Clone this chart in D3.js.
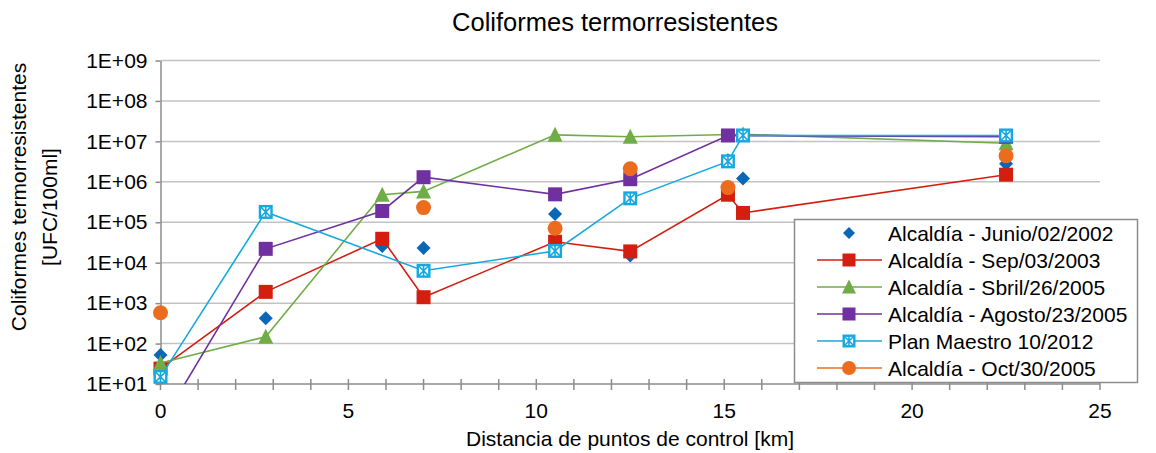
<!DOCTYPE html>
<html>
<head>
<meta charset="utf-8">
<script src="https://cdn.jsdelivr.net/npm/d3@7"></script>
<style>
  html, body { margin: 0; padding: 0; background: #fff; }
  svg { display: block; font-family: "Liberation Sans", Arial, sans-serif; }
</style>
</head>
<body>
<svg id="chart" width="1156" height="453"></svg>
<script>
// Sampling distances along the channel [km]
const distances = [0, 2.8, 5.9, 7.0, 10.5, 12.5, 15.1, 15.5, 22.5];

// Thermotolerant coliforms [UFC/100ml] per campaign (null = not sampled)
const junio2002  = [52, 420, 2.6e4, 2.3e4, 1.6e5, 1.5e4, 3.4e6, 1.2e6, 2.8e6];
const sep2003    = [24, 1.9e3, 3.9e4, 1.4e3, 3.3e4, 1.9e4, 4.8e5, 1.7e5, 1.5e6];
const sbril2005  = [33, 148, 4.8e5, 5.8e5, 1.45e7, 1.3e7, null, 1.5e7, 9e6];
const agosto2005 = [1, 2.2e4, 1.9e5, 1.3e6, 4.9e5, 1.16e6, 1.4e7, null, 1.3e7];
const plan2012   = [15, 1.8e5, null, 6.3e3, 1.95e4, 3.9e5, 3.2e6, 1.4e7, 1.4e7];
const oct2005    = [580, null, null, 2.3e5, 7.1e4, 2.1e6, 7.2e5, null, 4.4e6];

const seriesNames = [
  "Alcaldía - Junio/02/2002",
  "Alcaldía - Sep/03/2003",
  "Alcaldía - Sbril/26/2005",
  "Alcaldía - Agosto/23/2005",
  "Plan Maestro 10/2012",
  "Alcaldía - Oct/30/2005"
];
const seriesValues = [junio2002, sep2003, sbril2005, agosto2005, plan2012, oct2005];

const yTickValues = [1e1, 1e2, 1e3, 1e4, 1e5, 1e6, 1e7, 1e8, 1e9];
const xTickValues = [0, 5, 10, 15, 20, 25];

const chartTitle = "Coliformes termorresistentes";
const xTitle = "Distancia de puntos de control [km]";
const yTitleLines = ["Coliformes termorresistentes", "[UFC/100ml]"];

// Presentation of each series
const styles = [
  { color: "#0a66b7", shape: "diamond", line: false, legendLine: false },
  { color: "#d41f10", shape: "square",  line: true,  legendLine: true },
  { color: "#70ad47", shape: "triangle", line: true, legendLine: true },
  { color: "#7030a0", shape: "square",  line: true,  legendLine: true },
  { color: "#16a9e1", shape: "boxX",    line: true,  legendLine: true },
  { color: "#ec6c1f", shape: "circle",  line: false, legendLine: true }
];

const svg = d3.select("#chart");
const plotLeft = 160.5, plotRight = 1100, plotTop = 60.5, plotBottom = 384;

const x = d3.scaleLinear().domain([0, 25]).range([plotLeft, plotRight]);
const y = d3.scaleLog().domain([1e1, 1e9]).range([plotBottom, plotTop]);

// Clip regions: lines stop at the axis, markers may overhang sideways
const defs = svg.append("defs");
defs.append("clipPath").attr("id", "clipLines")
  .append("rect").attr("x", plotLeft).attr("y", 0).attr("width", plotRight - plotLeft + 20).attr("height", plotBottom);
defs.append("clipPath").attr("id", "clipMarks")
  .append("rect").attr("x", 0).attr("y", 0).attr("width", 1156).attr("height", plotBottom + 2);

// Horizontal gridlines
svg.append("g")
  .selectAll("line")
  .data(yTickValues.filter(v => v > 1e1))
  .join("line")
  .attr("x1", plotLeft).attr("x2", plotRight)
  .attr("y1", d => y(d)).attr("y2", d => y(d))
  .attr("stroke", "#c3c3c3").attr("stroke-width", 1.5);

// Y axis
const yAxis = d3.axisLeft(y)
  .tickValues(yTickValues)
  .tickFormat(d => "1E+" + String(Math.round(Math.log10(d))).padStart(2, "0"))
  .tickSizeInner(5).tickSizeOuter(0).tickPadding(8);
const gy = svg.append("g").attr("transform", `translate(${plotLeft},0)`).call(yAxis);
gy.select(".domain").attr("stroke", "#8c8c8c").attr("stroke-width", 1.5);
gy.selectAll(".tick line").attr("stroke", "#8c8c8c").attr("stroke-width", 1.5);
gy.selectAll(".tick text").attr("font-size", 21).attr("fill", "#000")
  .attr("font-family", "Liberation Sans, Arial, sans-serif");

// X axis with minor ticks every km crossing the axis line
const gx = svg.append("g").attr("transform", `translate(0,${plotBottom})`);
gx.append("line").attr("x1", plotLeft).attr("x2", plotRight).attr("y1", 0).attr("y2", 0)
  .attr("stroke", "#8c8c8c").attr("stroke-width", 1.5);
gx.selectAll("line.tk")
  .data(d3.range(0, 26))
  .join("line").attr("class", "tk")
  .attr("x1", d => x(d)).attr("x2", d => x(d))
  .attr("y1", -5).attr("y2", 6)
  .attr("stroke", "#8c8c8c").attr("stroke-width", 1.5);
gx.selectAll("text")
  .data(xTickValues)
  .join("text")
  .attr("x", d => x(d)).attr("y", 34)
  .attr("text-anchor", "middle")
  .attr("font-size", 21).attr("fill", "#000")
  .text(d => d);

// Titles
svg.append("text").attr("x", 615).attr("y", 31).attr("text-anchor", "middle")
  .attr("font-size", 25.5).attr("fill", "#000").text(chartTitle);
svg.append("text").attr("x", 630).attr("y", 446).attr("text-anchor", "middle")
  .attr("font-size", 21).attr("fill", "#000").text(xTitle);
svg.append("text").attr("transform", "translate(26,197) rotate(-90)")
  .attr("text-anchor", "middle").attr("font-size", 21).attr("fill", "#000").text(yTitleLines[0]);
svg.append("text").attr("transform", "translate(57,207) rotate(-90)")
  .attr("text-anchor", "middle").attr("font-size", 21).attr("fill", "#000").text(yTitleLines[1]);

// Marker drawing
function drawMarker(g, shape, color, cx, cy, s) {
  const h = s / 2;
  if (shape === "square") {
    g.append("rect").attr("x", cx - h).attr("y", cy - h).attr("width", s).attr("height", s)
      .attr("fill", color);
  } else if (shape === "diamond") {
    const r = h * 1.0;
    g.append("path").attr("d", `M${cx},${cy - r}L${cx + r},${cy}L${cx},${cy + r}L${cx - r},${cy}Z`)
      .attr("fill", color);
  } else if (shape === "triangle") {
    g.append("path").attr("d", `M${cx},${cy - h - 1}L${cx + h + 0.5},${cy + h}L${cx - h - 0.5},${cy + h}Z`)
      .attr("fill", color);
  } else if (shape === "circle") {
    g.append("circle").attr("cx", cx).attr("cy", cy).attr("r", h + 0.5).attr("fill", color);
  } else if (shape === "boxX") {
    const i = h - 1.2;
    g.append("rect").attr("x", cx - i).attr("y", cy - i).attr("width", 2 * i).attr("height", 2 * i)
      .attr("fill", "#fff").attr("stroke", color).attr("stroke-width", 2.4);
    g.append("path")
      .attr("d", `M${cx - i},${cy - i}L${cx + i},${cy + i}M${cx + i},${cy - i}L${cx - i},${cy + i}M${cx},${cy - i}L${cx},${cy + i}`)
      .attr("stroke", color).attr("stroke-width", 1.6).attr("fill", "none");
  }
}

// Series
const line = d3.line().x(d => x(d.x)).y(d => y(d.v));
seriesValues.forEach((vals, k) => {
  const st = styles[k];
  const pts = distances.map((dx, j) => ({ x: dx, v: vals[j] })).filter(d => d.v != null);
  const g = svg.append("g");
  if (st.line) {
    g.append("path").datum(pts).attr("d", line)
      .attr("fill", "none").attr("stroke", st.color).attr("stroke-width", 1.6)
      .attr("clip-path", "url(#clipLines)");
  }
  const gm = g.append("g").attr("clip-path", "url(#clipMarks)");
  pts.forEach(p => drawMarker(gm, st.shape, st.color, x(p.x), y(p.v), 14));
});

// Legend
const lg = svg.append("g");
lg.append("rect").attr("x", 794.5).attr("y", 219.5).attr("width", 343).attr("height", 163)
  .attr("fill", "#fff").attr("stroke", "#8c8c8c").attr("stroke-width", 1.5);
seriesNames.forEach((name, k) => {
  const st = styles[k];
  const cy = 233 + k * 27;
  if (st.legendLine) {
    lg.append("line").attr("x1", 817).attr("x2", 882).attr("y1", cy).attr("y2", cy)
      .attr("stroke", st.color).attr("stroke-width", 1.6);
  }
  drawMarker(lg, st.shape, st.color, 849, cy, st.shape === "diamond" ? 12 : 13);
  lg.append("text").attr("x", 888).attr("y", cy + 8).attr("font-size", 21).attr("fill", "#000").text(name);
});
</script>
</body>
</html>
